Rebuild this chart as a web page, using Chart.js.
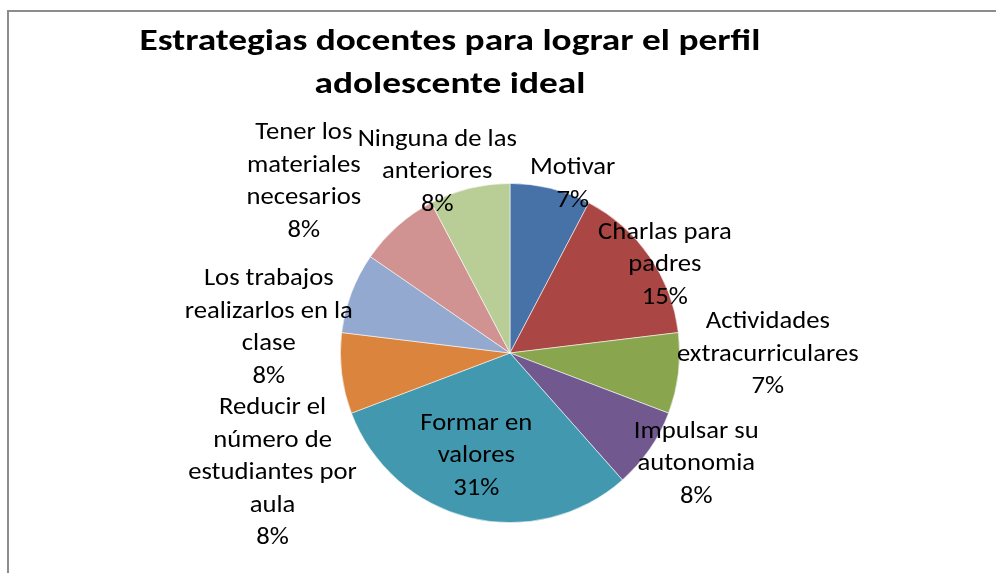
<!DOCTYPE html>
<html>
<head>
<meta charset="utf-8">
<script src="https://cdn.jsdelivr.net/npm/chart.js@4"></script>
<style>
  html, body { margin: 0; padding: 0; background: #fff; }
  #frame {
    position: absolute; left: 7px; top: 10px; width: 1000px; height: 600px;
    border-left: 2px solid #8c8c8c; border-top: 2px solid #8c8c8c;
  }
  #wrap { position: absolute; left: 0; top: 0; width: 996px; height: 573px; }
</style>
</head>
<body>
<div id="frame"></div>
<div id="wrap"><canvas id="chart"></canvas></div>
<script>
// Strategy categories (wrapped the way the labels appear)
const categories = [
    ["Motivar"],
    ["Charlas para", "padres"],
    ["Actividades", "extracurriculares"],
    ["Impulsar su", "autonomia"],
    ["Formar en", "valores"],
    ["Reducir el", "número de", "estudiantes por", "aula"],
    ["Los trabajos", "realizarlos en la", "clase"],
    ["Tener los", "materiales", "necesarios"],
    ["Ninguna de las", "anteriores"]
];

// Number of answers per strategy
const answers = [1, 2, 1, 1, 4, 1, 1, 1, 1];

// Percent labels as shown on the chart
const percentLabels = ["7%", "15%", "7%", "8%", "31%", "8%", "8%", "8%", "8%"];

const titleLines = ["Estrategias docentes para lograr el perfil", "adolescente ideal"];

const sliceColors = ['#4672A8', '#AA4644', '#89A54E', '#71588F', '#4198AF',
                     '#DB843D', '#93A9CF', '#D19392', '#B9CD96'];

// Label placement: angle (deg, clockwise from top) and distance in pie radii
const labelPlacement = [
    { angle: 20.4, dist: 1.06 },
    { angle: 60.4, dist: 1.05 },
    { angle: 90.4, dist: 1.52 },
    { angle: 120.9, dist: 1.28 },
    { angle: 198.1, dist: 0.64 },
    { angle: 243.1, dist: 1.57 },
    { angle: 275.9, dist: 1.43 },
    { angle: 309.7, dist: 1.58 },
    { angle: 338.1, dist: 1.15 }
];

const labelFont = '24px Carlito, Calibri, Lato, sans-serif';
const titleFont = 'bold 30px Carlito, Calibri, Lato, sans-serif';

// text is a bit wider than the fallback font, stretch it horizontally
function wideText(ctx, text, x, y, sx) {
    ctx.save();
    ctx.translate(x, y);
    ctx.scale(sx, 1);
    ctx.fillText(text, 0, 0);
    ctx.restore();
}

// Draws the title and the data labels
const pieLabels = {
    id: 'pieLabels',
    afterDraw(chart) {
        const ctx = chart.ctx;
        ctx.save();
        ctx.fillStyle = '#000';
        ctx.textAlign = 'center';
        ctx.textBaseline = 'middle';

        ctx.font = titleFont;
        wideText(ctx, titleLines[0], 450, 42, 1.245);
        wideText(ctx, titleLines[1], 450, 85, 1.245);

        ctx.font = labelFont;
        const arcs = chart.getDatasetMeta(0).data;
        arcs.forEach((arc, i) => {
            const p = labelPlacement[i];
            const a = p.angle * Math.PI / 180;
            const r = arc.outerRadius * p.dist;
            const cx = arc.x + Math.sin(a) * r;
            const cy = arc.y - Math.cos(a) * r;
            const lines = categories[i].concat([percentLabels[i]]);
            const lh = 32.5;
            const top = cy - (lines.length - 1) * lh / 2;
            lines.forEach((t, k) => wideText(ctx, t, cx, top + k * lh, 1.11));
        });
        ctx.restore();
    }
};

new Chart(document.getElementById('chart'), {
    type: 'pie',
    data: {
        labels: categories,
        datasets: [{
            data: answers,
            backgroundColor: sliceColors,
            borderColor: 'rgba(255,255,255,0.7)',
            borderWidth: 0.8
        }]
    },
    options: {
        responsive: true,
        maintainAspectRatio: false,
        animation: false,
        layout: { padding: { top: 183, bottom: 50, left: 340, right: 316 } },
        plugins: {
            legend: { display: false },
            title: { display: false },
            tooltip: { enabled: false }
        }
    },
    plugins: [pieLabels]
});
</script>
</body>
</html>
